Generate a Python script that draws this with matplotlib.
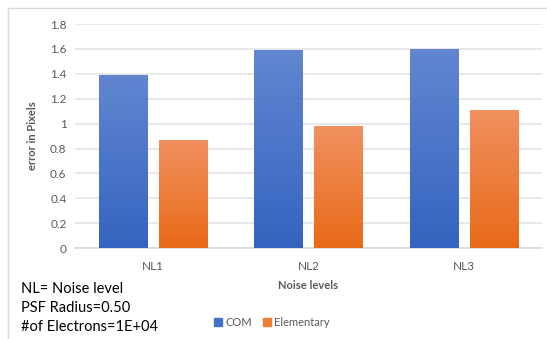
import numpy as np
import matplotlib.pyplot as plt
from matplotlib.patches import Rectangle
from matplotlib.colors import LinearSegmentedColormap

# ---------------------------------------------------------
# Data
# ---------------------------------------------------------
categories = ["NL1", "NL2", "NL3"]
com_err = [1.39, 1.59, 1.60]
elem_err = [0.87, 0.98, 1.11]
yticks = [0, 0.2, 0.4, 0.6, 0.8, 1, 1.2, 1.4, 1.6, 1.8]
ytick_labels = ["0", "0.2", "0.4", "0.6", "0.8", "1", "1.2", "1.4", "1.6", "1.8"]
notes = ["NL= Noise level", "PSF Radius=0.50", "#of Electrons=1E+04"]

plt.rcParams["font.family"] = ["Lato", "DejaVu Sans"]
grey = "#595959"

fig = plt.figure(figsize=(5.47, 3.39), dpi=100)
ax = fig.add_axes([0.137, 0.268, 0.854, 0.661])

x = np.arange(len(categories))
w = 0.31
off = 0.193


def gradient_bars(bars, top_col, bot_col):
    # vertical gradient fill, lighter at the top
    grad = np.linspace(0, 1, 256).reshape(-1, 1)
    cmap = LinearSegmentedColormap.from_list("g", [bot_col, top_col])
    for b in bars:
        x0, y0 = b.get_x(), b.get_y()
        bw, bh = b.get_width(), b.get_height()
        im = ax.imshow(grad, cmap=cmap, aspect="auto", origin="lower",
                       extent=[x0, x0 + bw, y0, y0 + bh], zorder=3)
        im.set_clip_path(b)
        b.set_facecolor("none")


b1 = ax.bar(x - off, com_err, w, color="#4472C4", zorder=3, label="COM")
b2 = ax.bar(x + off, elem_err, w, color="#ED7D31", zorder=3, label="Elementary")
gradient_bars(b1, "#6286D0", "#3464C0")
gradient_bars(b2, "#F19060", "#E86A18")

ax.set_xlim(-0.5, 2.5)
ax.set_ylim(0, 1.8)
ax.set_yticks(yticks)
ax.set_yticklabels(ytick_labels)
ax.set_xticks(x)
ax.set_xticklabels(categories)
ax.tick_params(length=0, colors=grey, labelsize=8.5, pad=6)
ax.tick_params(axis="x", pad=9)
ax.grid(axis="y", color="#E4E4E8", linewidth=1.2, zorder=0)
for s in ["top", "right", "left"]:
    ax.spines[s].set_visible(False)
ax.spines["bottom"].set_color("#D9D9DD")
ax.spines["bottom"].set_linewidth(1.2)

ax.set_ylabel("error in Pixels", fontsize=8, fontweight="bold", color=grey, labelpad=9)
ax.set_xlabel("Noise levels", fontsize=8, fontweight="bold", color=grey, labelpad=6)

# legend with plain colour squares
h1 = Rectangle((0, 0), 1, 1, color="#4472C4")
h2 = Rectangle((0, 0), 1, 1, color="#ED7D31")
fig.legend([h1, h2], ["COM", "Elementary"], loc="center", bbox_to_anchor=(0.497, 0.05),
           ncol=2, frameon=False, fontsize=8, labelcolor=grey, handlelength=0.7,
           handleheight=0.7, handletextpad=0.3, columnspacing=1.0)

# notes in the lower left
for i, t in enumerate(notes):
    fig.text(0.038, 0.148 - i * 0.056, t, fontsize=10.5, color="black", va="center")

# chart border
fig.patches.append(Rectangle((8 / 547, -0.1), 1.2, 1 - 8 / 339 + 0.1,
                             transform=fig.transFigure, fill=False,
                             edgecolor="#D9D9D9", linewidth=1))

fig.savefig("out.png", dpi=100)
